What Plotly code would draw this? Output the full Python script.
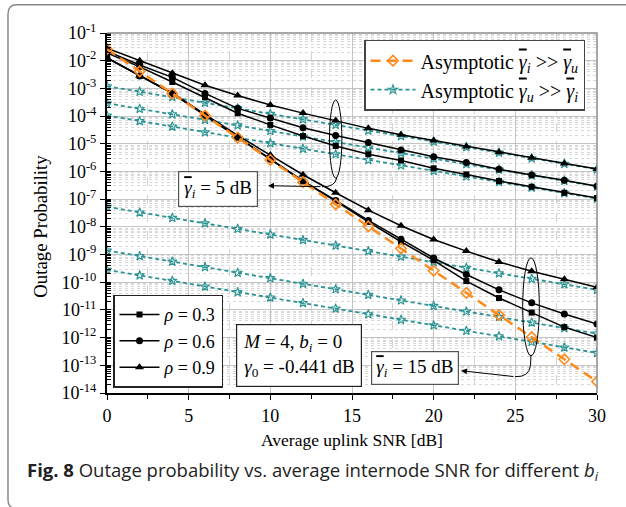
import plotly.graph_objects as go

# Average uplink SNR [dB]
snr_db = [0, 2, 4, 6, 8, 10, 12, 14, 16, 18, 20, 22, 24, 26, 28, 30]

# Exact outage probability, internode SNR 5 dB
p5_rho03 = [1.9e-2, 6.0e-3, 1.7e-3, 4.8e-4, 1.27e-4, 4.8e-5, 1.9e-5, 8.3e-6, 4.2e-6, 2.5e-6,
            1.3e-6, 7.8e-7, 4.5e-7, 2.8e-7, 1.7e-7, 1.1e-7]
p5_rho06 = [2.2e-2, 7.0e-3, 2.5e-3, 6.6e-4, 1.9e-4, 8.5e-5, 3.8e-5, 2.0e-5, 1.1e-5, 5.9e-6,
            3.4e-6, 2.1e-6, 1.2e-6, 7.4e-7, 4.8e-7, 2.9e-7]
p5_rho09 = [2.8e-2, 1.0e-2, 3.5e-3, 1.3e-3, 5.5e-4, 2.5e-4, 1.28e-4, 6.9e-5, 3.6e-5, 2.1e-5,
            1.3e-5, 7.9e-6, 4.9e-6, 3.1e-6, 1.95e-6, 1.23e-6]

# Exact outage probability, internode SNR 15 dB
p15_rho03 = [1.25e-2, 2.8e-3, 6.6e-4, 1.07e-4, 1.72e-5, 2.75e-6, 4.4e-7, 8.5e-8, 1.5e-8, 2.9e-9,
             6.2e-10, 1.1e-10, 2.7e-11, 8.0e-12, 2.4e-12, 1.0e-12]
p15_rho06 = [1.25e-2, 2.8e-3, 6.6e-4, 1.08e-4, 1.75e-5, 2.8e-6, 4.6e-7, 9.0e-8, 1.7e-8, 3.6e-9,
             7.5e-10, 1.9e-10, 5.3e-11, 1.8e-11, 7.1e-12, 3.1e-12]
p15_rho09 = [1.25e-2, 2.9e-3, 6.8e-4, 1.15e-4, 2.0e-5, 3.9e-6, 7.6e-7, 1.7e-7, 4.0e-8, 1.1e-8,
             3.5e-9, 1.33e-9, 5.4e-10, 2.5e-10, 1.28e-10, 6.6e-11]

# Asymptote for internode SNR >> uplink SNR
asym_i_gg_u = [2.6e-2, 4.1e-3, 6.5e-4, 1.04e-4, 1.65e-5, 2.6e-6, 4.1e-7, 6.5e-8, 1.04e-8, 1.65e-9,
               2.6e-10, 4.1e-11, 6.5e-12, 1.04e-12, 1.65e-13, 2.6e-14]

# Asymptotes for uplink SNR >> internode SNR
asym5_rho09 = [1.2e-3, 7.6e-4, 4.8e-4, 3.0e-4, 1.9e-4, 1.2e-4, 7.6e-5, 4.8e-5, 3.0e-5, 1.9e-5,
               1.2e-5, 7.6e-6, 4.8e-6, 3.0e-6, 1.9e-6, 1.2e-6]
asym5_rho06 = [2.9e-4, 1.83e-4, 1.16e-4, 7.3e-5, 4.6e-5, 2.9e-5, 1.83e-5, 1.16e-5, 7.3e-6, 4.6e-6,
               2.9e-6, 1.83e-6, 1.16e-6, 7.3e-7, 4.6e-7, 2.9e-7]
asym5_rho03 = [1.05e-4, 6.6e-5, 4.2e-5, 2.6e-5, 1.66e-5, 1.05e-5, 6.6e-6, 4.2e-6, 2.6e-6, 1.66e-6,
               1.05e-6, 6.6e-7, 4.2e-7, 2.6e-7, 1.66e-7, 1.05e-7]
asym15_rho09 = [5.3e-8, 3.3e-8, 2.1e-8, 1.33e-8, 8.4e-9, 5.3e-9, 3.3e-9, 2.1e-9, 1.33e-9, 8.4e-10,
                5.3e-10, 3.3e-10, 2.1e-10, 1.33e-10, 8.4e-11, 5.3e-11]
asym15_rho06 = [1.4e-9, 8.8e-10, 5.6e-10, 3.5e-10, 2.2e-10, 1.4e-10, 8.8e-11, 5.6e-11, 3.5e-11, 2.2e-11,
                1.4e-11, 8.8e-12, 5.6e-12, 3.5e-12, 2.2e-12, 1.4e-12]
asym15_rho03 = [2.8e-10, 1.77e-10, 1.12e-10, 7.0e-11, 4.4e-11, 2.8e-11, 1.77e-11, 1.12e-11, 7.0e-12, 4.4e-12,
                2.8e-12, 1.77e-12, 1.12e-12, 7.0e-13, 4.4e-13, 2.8e-13]

y_exponents = list(range(-14, 0))
y_tick_vals = [10.0 ** e for e in y_exponents]
y_tick_text = ["10<sup>%d</sup>" % e for e in y_exponents]
x_tick_vals = [0, 5, 10, 15, 20, 25, 30]

SERIF = "Liberation Serif, Times New Roman, serif"
TEAL = "#2a9393"
ORANGE = "#ff8a1c"

# gamma with an overbar
GBAR = '<span style="text-decoration:overline">γ</span>'

fig = go.Figure()

# teal asymptotes (drawn first, underneath the exact curves)
teal_sets = [asym5_rho09, asym5_rho06, asym5_rho03, asym15_rho09, asym15_rho06, asym15_rho03]
for k, ys in enumerate(teal_sets):
    fig.add_trace(go.Scatter(
        x=snr_db, y=ys, mode="lines+markers",
        line=dict(color=TEAL, width=1.8, dash="4px,3px"),
        marker=dict(symbol="star-open", size=7, color=TEAL, line=dict(width=1.1, color=TEAL)),
        name="Asymptotic <i>%s<sub>u</sub></i> &gt;&gt; <i>%s<sub>i</sub></i>" % (GBAR, GBAR),
        legend="legend", legendrank=2, showlegend=(k == 0),
    ))

# exact curves
black_sets = [
    (p5_rho03, "square", 6, "<i>ρ</i> = 0.3", True, 1),
    (p5_rho06, "circle", 7, "<i>ρ</i> = 0.6", True, 2),
    (p5_rho09, "triangle-up", 8, "<i>ρ</i> = 0.9", True, 3),
    (p15_rho03, "square", 6, "<i>ρ</i> = 0.3", False, 1),
    (p15_rho06, "circle", 7, "<i>ρ</i> = 0.6", False, 2),
    (p15_rho09, "triangle-up", 8, "<i>ρ</i> = 0.9", False, 3),
]
for ys, sym, sz, nm, show, rank in black_sets:
    fig.add_trace(go.Scatter(
        x=snr_db, y=ys, mode="lines+markers",
        line=dict(color="black", width=1.5),
        marker=dict(symbol=sym, size=sz, color="black"),
        name=nm, legend="legend2", legendrank=rank, showlegend=show,
    ))

# orange asymptote
fig.add_trace(go.Scatter(
    x=snr_db, y=asym_i_gg_u, mode="lines+markers",
    line=dict(color=ORANGE, width=2.5, dash="10px,6px"),
    marker=dict(symbol="diamond-open", size=8, color=ORANGE, line=dict(width=1.6, color=ORANGE)),
    name="Asymptotic <i>%s<sub>i</sub></i> &gt;&gt; <i>%s<sub>u</sub></i>" % (GBAR, GBAR),
    legend="legend", legendrank=1, showlegend=True,
))

# plot-area geometry in pixels, used to place the boxes and notes
L, R, T, B = 107, 597, 33.3, 393.3
W, H = R - L, B - T


def px(x):
    return (x - L) / W


def py(y):
    return (B - y) / H


fig.update_layout(
    width=626, height=507,
    margin=dict(l=L, r=626 - R, t=T, b=507 - B),
    paper_bgcolor="white", plot_bgcolor="white",
    font=dict(family=SERIF, size=18, color="black"),
    xaxis=dict(
        range=[0, 30], tickvals=x_tick_vals, showgrid=True, gridcolor="#c4c4c4", gridwidth=1,
        minor=dict(dtick=2.5, tick0=0, showgrid=True, gridcolor="#d4d4d4", griddash="dash",
                   ticks="outside", ticklen=4, tickcolor="black"),
        showline=True, linecolor="black", linewidth=2, ticks="outside", ticklen=5,
        tickcolor="black", zeroline=False, tickfont=dict(family=SERIF, size=18),
    ),
    yaxis=dict(
        type="log", range=[-14, -1], tickvals=y_tick_vals, ticktext=y_tick_text,
        showgrid=True, gridcolor="#c4c4c4", gridwidth=1,
        minor=dict(dtick="D1", showgrid=True, gridcolor="#d8d8d8", griddash="dot",
                   ticks="inside", ticklen=4, tickcolor="black"),
        showline=True, linecolor="black", linewidth=2, ticks="outside", ticklen=5,
        tickcolor="black", zeroline=False, tickfont=dict(family=SERIF, size=18),
    ),
    legend=dict(
        x=px(585), y=py(40), xanchor="right", yanchor="top",
        bgcolor="white", bordercolor="#444", borderwidth=1.5,
        font=dict(family=SERIF, size=20), itemwidth=45, traceorder="normal",
    ),
    legend2=dict(
        x=px(113), y=py(388), xanchor="left", yanchor="bottom",
        bgcolor="white", bordercolor="#222", borderwidth=1.5,
        font=dict(family=SERIF, size=18), itemwidth=40, traceorder="normal",
    ),
    showlegend=True,
)

shapes = []
# gray frame on top and right of the plot area
shapes.append(dict(type="path", xref="paper", yref="paper",
                   path="M 0,1 L 1,1 L 1,0", line=dict(color="#8c8c8c", width=1.5), layer="above"))

# ellipses grouping the curves
shapes.append(dict(type="circle", xref="x", yref="y", x0=13.62, x1=14.38, y0=5.8e-7, y1=3.8e-4,
                   line=dict(color="black", width=1)))
shapes.append(dict(type="circle", xref="x", yref="y", x0=25.45, x1=26.47, y0=2.2e-13, y1=7.6e-10,
                   line=dict(color="black", width=1)))

# connector curves from the ellipses toward the labels
shapes.append(dict(type="path", xref="paper", yref="paper",
                   path="M %f,%f Q %f,%f %f,%f" % (px(336.7), py(178.3), px(335), py(187.5), px(322), py(187)),
                   line=dict(color="black", width=1)))
shapes.append(dict(type="path", xref="paper", yref="paper",
                   path="M %f,%f L %f,%f Q %f,%f %f,%f" % (px(531), py(355), px(530.5), py(366),
                                                          px(529), py(377.5), px(515), py(377)),
                   line=dict(color="black", width=1)))

# outer rounded border of the figure panel
x0b, x1b, y0b, y1b = px(8), px(660), py(5), py(509)
rx, ry = 9 / W, 9 / H
shapes.append(dict(type="path", xref="paper", yref="paper",
                   path="M %f,%f L %f,%f Q %f,%f %f,%f L %f,%f Q %f,%f %f,%f L %f,%f" % (
                       x1b, y0b, x0b + rx, y0b, x0b, y0b, x0b, y0b - ry,
                       x0b, y1b + ry, x0b, y1b, x0b + rx, y1b, x1b, y1b),
                   line=dict(color="#8a8a8a", width=1.5)))
fig.update_layout(shapes=shapes)

ann = []
# arrowheads (tail offsets in pixels)
ann.append(dict(xref="paper", yref="paper", x=px(268), y=py(186), ax=54, ay=1,
                axref="pixel", ayref="pixel", text="", showarrow=True, arrowhead=2,
                arrowsize=1.2, arrowwidth=1, arrowcolor="black"))
ann.append(dict(xref="paper", yref="paper", x=px(461), y=py(371), ax=54, ay=6,
                axref="pixel", ayref="pixel", text="", showarrow=True, arrowhead=2,
                arrowsize=1.2, arrowwidth=1, arrowcolor="black"))

# labelled boxes
box = dict(xref="paper", yref="paper", showarrow=False, bgcolor="white",
           bordercolor="#555", borderwidth=1.2, font=dict(family=SERIF, size=19))
ann.append(dict(box, x=px(218.3), y=py(189), xanchor="center", yanchor="middle",
                text="<i>%s<sub>i</sub></i> = 5 dB" % GBAR, borderpad=5))
ann.append(dict(box, x=px(415), y=py(368.3), xanchor="center", yanchor="middle",
                text="<i>%s<sub>i</sub></i> = 15 dB" % GBAR, borderpad=4))
ann.append(dict(box, x=px(236), y=py(387), xanchor="left", yanchor="bottom", align="left",
                text="<i>M</i> = 4, <i>b<sub>i</sub></i> = 0<br><i>γ</i><sub>0</sub> = -0.441 dB",
                borderpad=6, bordercolor="#222"))

# axis titles
ann.append(dict(xref="paper", yref="paper", x=px(352), y=py(440), xanchor="center", yanchor="middle",
                showarrow=False, text="Average uplink SNR [dB]", font=dict(family=SERIF, size=17.5)))
ann.append(dict(xref="paper", yref="paper", x=px(41), y=py(227), xanchor="center", yanchor="middle",
                showarrow=False, textangle=-90,
                text="Outage Probability", font=dict(family=SERIF, size=18.8)))

# figure caption
ann.append(dict(xref="paper", yref="paper", x=px(25), y=py(471), xanchor="left", yanchor="middle",
                showarrow=False,
                text="<b>Fig. 8</b> Outage probability vs. average internode SNR for different <i>b<sub>i</sub></i>",
                font=dict(family="Open Sans, Noto Sans, sans-serif", size=18.5, color="#222")))
fig.update_layout(annotations=ann)

fig.write_html("out.html")
